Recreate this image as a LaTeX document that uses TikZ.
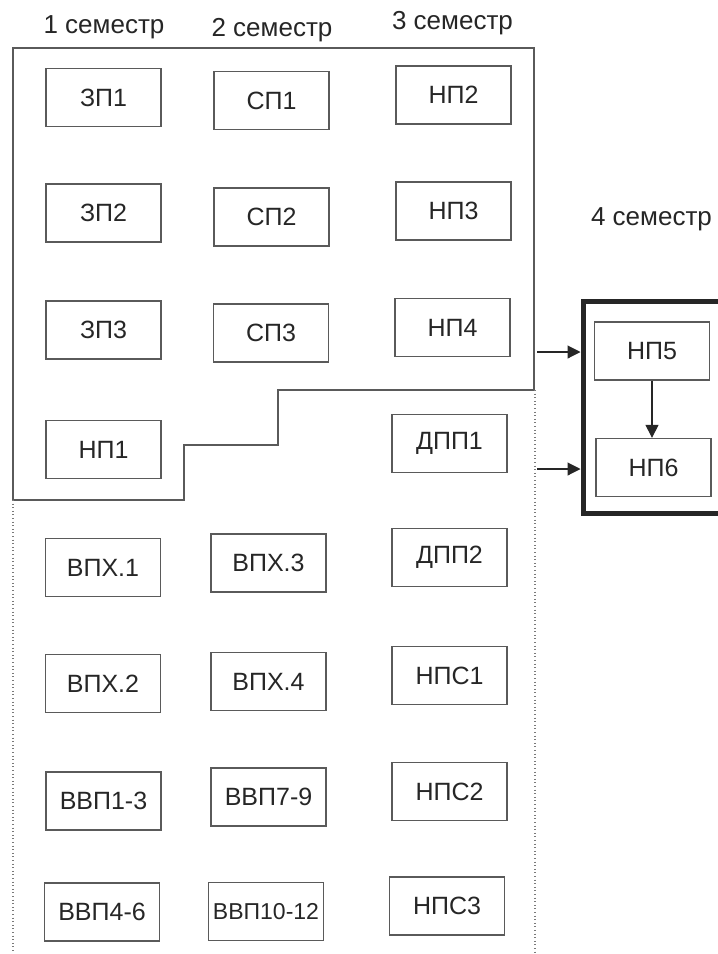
\documentclass[tikz,border=0pt]{standalone}
\usepackage{fontspec}
\setmainfont{Liberation Sans}
\usepackage{tikz}
\usetikzlibrary{arrows.meta}
\definecolor{boxgray}{HTML}{5A5A5A}
\definecolor{textgray}{HTML}{262626}
\definecolor{dotgray}{HTML}{7A7A7A}
\definecolor{framedark}{HTML}{262626}

\begin{document}
\begin{tikzpicture}[x=0.5pt, y=-0.5pt,
        disc/.style={draw=boxgray, line width=0.65pt, text=textgray, minimum width=57.5pt,
            minimum height=29pt, inner sep=0pt, font=\fontsize{12.5}{14}\selectfont},
        sem/.style={text=textgray, anchor=base, inner sep=0pt, font=\fontsize{13}{15}\selectfont},
        frame4/.style={draw=framedark, line width=2.5pt, minimum width=77pt, minimum height=106pt, inner sep=0pt},
        link/.style={draw=framedark, line width=0.55pt, -{Triangle[length=6.5pt, width=6.5pt]}}]
            \useasboundingbox (0,0) rectangle (718,954);
            \clip (0,0) rectangle (718,954);
            % semester headings
            \node[sem] (s1) at (104,33) {1 семестр};
            \node[sem] (s2) at (272,36) {2 семестр};
            \node[sem] (s3) at (452.5,29) {3 семестр};
            \node[sem] (s4) at (651.5,225) {4 семестр};
            % outline of semesters 1--3
            \draw[boxgray, line width=0.65pt] (13,500) -- (13,48) -- (534,48) -- (534,390) -- (278,390)
                -- (278,445) -- (184,445) -- (184,500) -- cycle;
            \draw[dotgray, line width=0.8pt, dash pattern=on 0.5pt off 1.3pt] (13,500) -- (13,952);
            \draw[dotgray, line width=0.8pt, dash pattern=on 0.5pt off 1.3pt] (535,390) -- (535,952);
            % 1 semester
            \node[disc] (zp1) at (103.5,97.5) {ЗП1};
            \node[disc] (zp2) at (103.5,213) {ЗП2};
            \node[disc] (zp3) at (103.5,330) {ЗП3};
            \node[disc] (np1) at (103.5,449.5) {НП1};
            \node[disc] (vpx1) at (103,567.5) {ВПХ.1};
            \node[disc] (vpx2) at (103,683.5) {ВПХ.2};
            \node[disc] (vvp13) at (103.5,801) {ВВП1-3};
            \node[disc] (vvp46) at (102,912) {ВВП4-6};
            % 2 semester
            \node[disc] (sp1) at (271.5,100.5) {СП1};
            \node[disc] (sp2) at (271.5,217) {СП2};
            \node[disc] (sp3) at (271,333) {СП3};
            \node[disc] (vpx3) at (268.5,563) {ВПХ.3};
            \node[disc] (vpx4) at (268.5,681.5) {ВПХ.4};
            \node[disc] (vvp79) at (268.5,797) {ВВП7-9};
            \node[disc, font=\fontsize{11.5}{13}\selectfont] (vvp1012) at (266,911.5) {ВВП10-12};
            % 3 semester
            \node[disc] (np2) at (453.5,95) {НП2};
            \node[disc] (np3) at (453.5,211) {НП3};
            \node[disc] (np4) at (452.5,327.5) {НП4};
            \node[disc] (dpp1) at (449.5,443.5) {ДПП1};
            \node[disc] (dpp2) at (449.5,557.5) {ДПП2};
            \node[disc] (nps1) at (449.5,675.5) {НПС1};
            \node[disc] (nps2) at (449.5,791.5) {НПС2};
            \node[disc] (nps3) at (447,906) {НПС3};
            % 4 semester
            \node[frame4] (sem4) at (660,407) {};
            \node[disc] (np5) at (652,351) {НП5};
            \node[disc] (np6) at (653.5,467.5) {НП6};
            \coordinate (from1) at (537,352);
            \coordinate (from2) at (537,469);
            \draw[link] (from1) -- (from1 -| sem4.west);
            \draw[link] (from2) -- (from2 -| sem4.west);
            \draw[link] (np5.south) -- (np5.south |- np6.north);
        \end{tikzpicture}
\end{document}
